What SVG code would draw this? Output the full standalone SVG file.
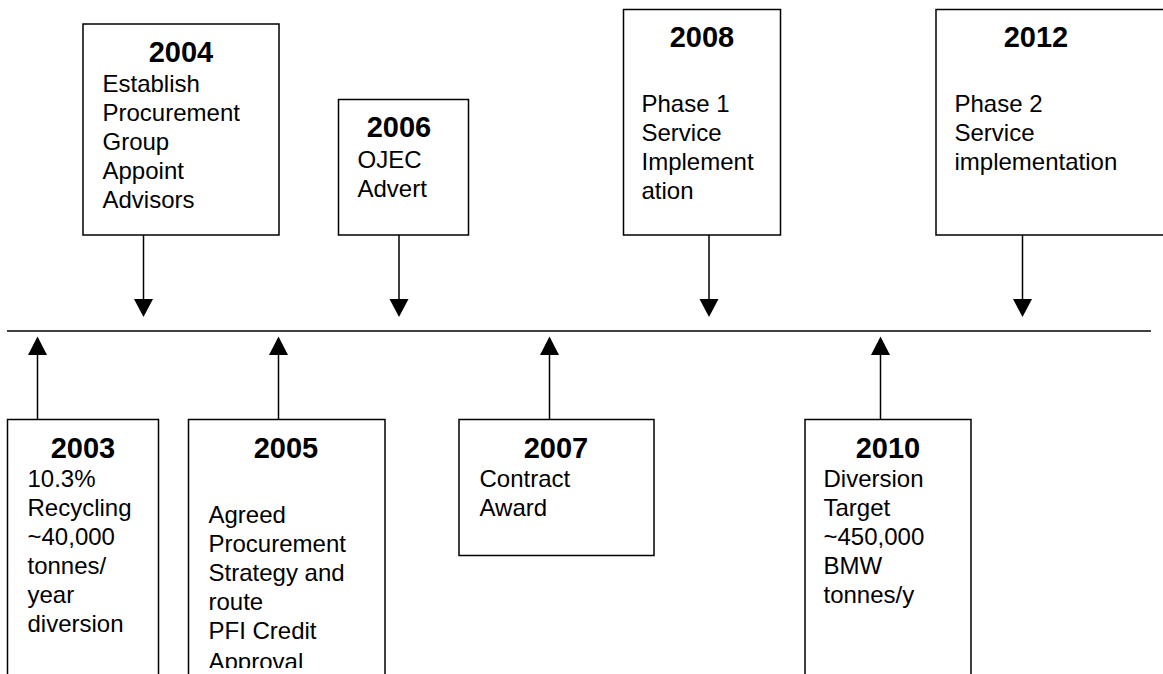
<svg xmlns="http://www.w3.org/2000/svg" width="1163" height="674" viewBox="0 0 1163 674">
<style>
.box{fill:#fff;stroke:#000;stroke-width:1.5}
.t{font-family:"Liberation Sans",Arial,sans-serif;font-size:29px;font-weight:bold;text-anchor:middle;fill:#000}
.b{font-family:"Liberation Sans",Arial,sans-serif;font-size:24px;fill:#000}
.c{stroke:#000;stroke-width:1.5;fill:none}
.ah{fill:#000}
</style>
<defs>
<clipPath id="clip2005"><rect x="188" y="419" width="198" height="249"/></clipPath>
</defs>
<rect width="1163" height="674" fill="#fff"/>
<g id="connectors">
<line class="c" x1="7" y1="331" x2="1151" y2="331"/>
<line class="c" x1="143.5" y1="235" x2="143.5" y2="300"/>
<polygon class="ah" points="134,299 153,299 143.5,317"/>
<line class="c" x1="399" y1="235" x2="399" y2="300"/>
<polygon class="ah" points="389.5,299 408.5,299 399,317"/>
<line class="c" x1="709" y1="235" x2="709" y2="300"/>
<polygon class="ah" points="699.5,299 718.5,299 709,317"/>
<line class="c" x1="1022.5" y1="235" x2="1022.5" y2="300"/>
<polygon class="ah" points="1013,299 1032,299 1022.5,317"/>
<line class="c" x1="37.5" y1="419" x2="37.5" y2="354"/>
<polygon class="ah" points="28,355 47,355 37.5,336.5"/>
<line class="c" x1="278.5" y1="419" x2="278.5" y2="354"/>
<polygon class="ah" points="269,355 288,355 278.5,336.5"/>
<line class="c" x1="549.5" y1="419" x2="549.5" y2="354"/>
<polygon class="ah" points="540,355 559,355 549.5,336.5"/>
<line class="c" x1="880.5" y1="419" x2="880.5" y2="354"/>
<polygon class="ah" points="871,355 890,355 880.5,336.5"/>
</g>
<g id="n2004">
<rect class="box" x="83" y="24" width="196" height="211"/>
<text class="t" x="181" y="62">2004</text>
<text class="b" x="102.5" y="92">Establish</text>
<text class="b" x="102.5" y="121">Procurement</text>
<text class="b" x="102.5" y="150">Group</text>
<text class="b" x="102.5" y="179">Appoint</text>
<text class="b" x="102.5" y="208">Advisors</text>
</g>
<g id="n2006">
<rect class="box" x="338.5" y="99.5" width="130" height="135.5"/>
<text class="t" x="399" y="137">2006</text>
<text class="b" x="357.5" y="167.5">OJEC</text>
<text class="b" x="357.5" y="196.5">Advert</text>
</g>
<g id="n2008">
<rect class="box" x="623.5" y="9.5" width="157" height="225.5"/>
<text class="t" x="702" y="47">2008</text>
<text class="b" x="641.5" y="112">Phase 1</text>
<text class="b" x="641.5" y="141">Service</text>
<text class="b" x="641.5" y="170">Implement</text>
<text class="b" x="641.5" y="198.5">ation</text>
</g>
<g id="n2012">
<rect class="box" x="936" y="9.5" width="240" height="225.5"/>
<text class="t" x="1036" y="47">2012</text>
<text class="b" x="954.5" y="112">Phase 2</text>
<text class="b" x="954.5" y="141">Service</text>
<text class="b" x="954.5" y="170">implementation</text>
</g>
<g id="n2003">
<rect class="box" x="7.5" y="419.5" width="151" height="280"/>
<text class="t" x="83" y="457.5">2003</text>
<text class="b" x="27.5" y="487">10.3%</text>
<text class="b" x="27.5" y="516">Recycling</text>
<text class="b" x="27.5" y="545">~40,000</text>
<text class="b" x="27.5" y="574">tonnes/</text>
<text class="b" x="27.5" y="603">year</text>
<text class="b" x="27.5" y="632">diversion</text>
</g>
<g id="n2005">
<rect class="box" x="188.5" y="419.5" width="196.5" height="280"/>
<text class="t" x="286" y="457.5">2005</text>
<g clip-path="url(#clip2005)">
<text class="b" x="208.5" y="523">Agreed</text>
<text class="b" x="208.5" y="552">Procurement</text>
<text class="b" x="208.5" y="581">Strategy and</text>
<text class="b" x="208.5" y="610">route</text>
<text class="b" x="208.5" y="639">PFI Credit</text>
<text class="b" x="208.5" y="670">Approval</text>
</g>
</g>
<g id="n2007">
<rect class="box" x="459" y="419.5" width="195" height="136"/>
<text class="t" x="556" y="457.5">2007</text>
<text class="b" x="479.5" y="487">Contract</text>
<text class="b" x="479.5" y="516">Award</text>
</g>
<g id="n2010">
<rect class="box" x="805" y="419.5" width="166" height="280"/>
<text class="t" x="888" y="457.5">2010</text>
<text class="b" x="823.5" y="487">Diversion</text>
<text class="b" x="823.5" y="516">Target</text>
<text class="b" x="823.5" y="545">~450,000</text>
<text class="b" x="823.5" y="574">BMW</text>
<text class="b" x="823.5" y="603">tonnes/y</text>
</g>
</svg>
